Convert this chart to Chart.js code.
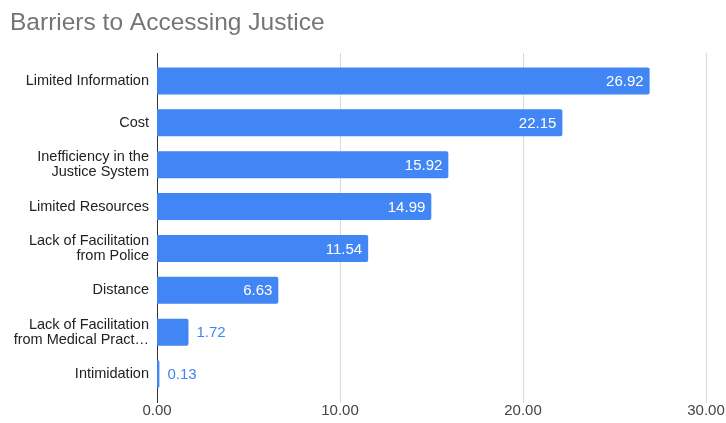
<!DOCTYPE html>
<html>
<head>
<meta charset="utf-8">
<script src="https://cdn.jsdelivr.net/npm/chart.js@4"></script>
<style>
  html, body { margin: 0; padding: 0; background: #fff; }
  #wrap { width: 726px; height: 423px; }
</style>
</head>
<body>
<div id="wrap"><canvas id="barriers" width="726" height="423"></canvas></div>
<script>
// chart data
const categories = [
    'Limited Information',
    'Cost',
    ['Inefficiency in the', 'Justice System'],
    'Limited Resources',
    ['Lack of Facilitation', 'from Police'],
    'Distance',
    ['Lack of Facilitation', 'from Medical Pract\u2026'],
    'Intimidation'
];
const values = [26.92, 22.15, 15.92, 14.99, 11.54, 6.63, 1.72, 0.13];
const xTicks = [0, 10, 20, 30];

const barColor = '#4285F4';
const fontFamily = "Arial, 'Liberation Sans', sans-serif";

// Vertical gridlines, a bit taller than the bar area like in Sheets
const gridPlugin = {
    id: 'grid',
    beforeDatasetsDraw(chart) {
        const c = chart.ctx;
        const area = chart.chartArea;
        const xs = chart.scales.x;
        c.save();
        xTicks.forEach(function (t) {
            const px = Math.round(xs.getPixelForValue(t)) + 0.5;
            c.beginPath();
            c.moveTo(px, area.top - 7);
            c.lineTo(px, area.bottom + 8);
            c.lineWidth = 1;
            c.strokeStyle = t === 0 ? '#333333' : '#d9d9d9';
            c.stroke();
        });
        c.restore();
    }
};

// Value labels at the end of each bar
const labelPlugin = {
    id: 'barLabels',
    afterDatasetsDraw(chart) {
        const c = chart.ctx;
        const meta = chart.getDatasetMeta(0);
        c.save();
        c.font = "15px " + fontFamily;
        c.textBaseline = 'middle';
        meta.data.forEach(function (bar, i) {
            const txt = values[i].toFixed(2);
            const w = bar.x - bar.base;
            if (w > 50) {
                c.fillStyle = '#ffffff';
                c.textAlign = 'right';
                c.fillText(txt, bar.x - 6, bar.y + 1);
            } else {
                c.fillStyle = barColor;
                c.textAlign = 'left';
                c.fillText(txt, bar.x + 8, bar.y + 1);
            }
        });
        c.restore();
    }
};

const ctx = document.getElementById('barriers');
new Chart(ctx, {
    type: 'bar',
    data: {
        labels: categories,
        datasets: [{
            data: values,
            backgroundColor: barColor,
            borderRadius: 2,
            borderSkipped: 'start',
            barPercentage: 0.645,
            categoryPercentage: 1
        }]
    },
    options: {
        indexAxis: 'y',
        responsive: false,
        animation: false,
        layout: { padding: { left: 10, right: 0, top: 0, bottom: 0 } },
        plugins: {
            legend: { display: false },
            tooltip: { enabled: false },
            title: {
                display: true,
                text: 'Barriers to Accessing Justice',
                align: 'start',
                color: '#757575',
                font: { family: fontFamily, size: 24.5, weight: 'normal' },
                padding: { top: 8.8, bottom: 21.8 }
            }
        },
        scales: {
            x: {
                min: 0,
                max: 30,
                afterBuildTicks(scale) {
                    scale.ticks = xTicks.map(function (v) { return { value: v }; });
                },
                afterFit(scale) {
                    scale.height = 28;
                    scale.paddingLeft = 0;
                    scale.paddingRight = 20;
                },
                grid: { display: false, drawTicks: false },
                border: { display: false },
                ticks: {
                    color: '#444444',
                    padding: 7,
                    maxRotation: 0,
                    font: { family: fontFamily, size: 15 },
                    callback: function (v) { return Number(v).toFixed(2); }
                }
            },
            y: {
                afterFit(scale) { scale.width = 147; },
                grid: { display: false, drawTicks: false },
                border: { display: false },
                ticks: {
                    color: '#222222',
                    padding: 8,
                    font: { family: fontFamily, size: 14.5, lineHeight: 1.05 }
                }
            }
        }
    },
    plugins: [gridPlugin, labelPlugin]
});
</script>
</body>
</html>
